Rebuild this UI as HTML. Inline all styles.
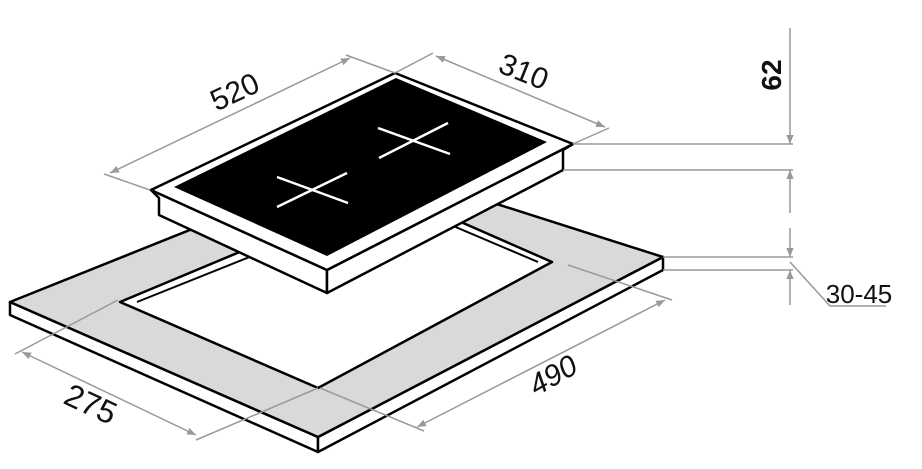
<!DOCTYPE html>
<html><head><meta charset="utf-8"><style>html,body{margin:0;padding:0;background:#fff}svg{display:block}</style></head>
<body>
<svg width="922" height="469" viewBox="0 0 922 469" xmlns="http://www.w3.org/2000/svg">
<defs>
<marker id="a" viewBox="0 0 10 10" refX="10" refY="5" markerWidth="9" markerHeight="9" orient="auto-start-reverse" markerUnits="userSpaceOnUse"><path d="M0,1 L10,5 L0,9 Z" fill="#999"/></marker>
</defs>
<g stroke="#000" stroke-width="2.5" stroke-linejoin="round">
<polygon points="10,302 318,437 318,452 10,315" fill="#fff"/>
<polygon points="318,437 663,257 663,270 318,452" fill="#fff"/>
<polygon points="10,302 362,161 663,257 318,437" fill="#d9d9d9"/>
<polygon points="120,302 388,190 552,262 318,388" fill="#fff"/>
<polyline points="137,302 392,200 538,262" fill="none" stroke-width="2"/>
<polygon points="151,190 159,198 159,215 327,293 327,270" fill="#fff"/>
<polygon points="327,270 573,144 563,150 563,170 327,293" fill="#fff"/>
<polygon points="151,190 395,73 573,144 327,270" fill="#fff"/>
<polygon points="174,187 396,78 547,142 327,256" fill="#000" stroke="none"/>
</g>
<g stroke="#fff" stroke-width="2.5">
<line x1="378" y1="128" x2="450" y2="154"/><line x1="379" y1="158" x2="448" y2="123"/>
<line x1="277" y1="177" x2="348" y2="203"/><line x1="277" y1="207" x2="347" y2="173"/>
</g>
<g stroke="#999" stroke-width="1.5" fill="none">
<line x1="104" y1="174" x2="150" y2="190"/><line x1="346" y1="55" x2="395" y2="73"/>
<line x1="110" y1="173" x2="350" y2="58" marker-start="url(#a)" marker-end="url(#a)"/>
<line x1="395" y1="73" x2="433" y2="53"/><line x1="573" y1="144" x2="609" y2="128"/>
<line x1="436" y1="56" x2="605" y2="127" marker-start="url(#a)" marker-end="url(#a)"/>
<line x1="573" y1="144" x2="793" y2="144"/><line x1="563" y1="170" x2="793" y2="170"/>
<line x1="790" y1="28" x2="790" y2="144" marker-end="url(#a)"/>
<line x1="790" y1="213" x2="790" y2="170" marker-end="url(#a)"/>
<line x1="663" y1="257" x2="793" y2="257"/><line x1="663" y1="270" x2="793" y2="270"/>
<line x1="790" y1="228" x2="790" y2="257" marker-end="url(#a)"/>
<line x1="790" y1="305" x2="790" y2="270" marker-end="url(#a)"/>
<polyline points="790,262 830,306 886,306"/>
<line x1="15" y1="354" x2="118" y2="300"/><line x1="196" y1="440" x2="318" y2="388"/>
<line x1="22" y1="352" x2="196" y2="435" marker-start="url(#a)" marker-end="url(#a)"/>
<line x1="320" y1="388" x2="424" y2="431"/><line x1="568" y1="265" x2="672" y2="300"/>
<line x1="417" y1="427" x2="665" y2="300" marker-start="url(#a)" marker-end="url(#a)"/>
</g>
<g font-family="'Liberation Sans',sans-serif" font-size="30" fill="#111" text-anchor="middle">
<text transform="translate(239,101) rotate(-25)">520</text>
<text transform="translate(520,81) rotate(22)">310</text>
<text transform="translate(781,75) rotate(-90)" font-weight="bold" font-size="28">62</text>
<text x="859" y="303" font-size="26">30-45</text>
<text transform="translate(86,414) rotate(25)" font-size="32">275</text>
<text transform="translate(558,384) rotate(-30)" font-style="italic">490</text>
</g>
</svg>
</body></html>
